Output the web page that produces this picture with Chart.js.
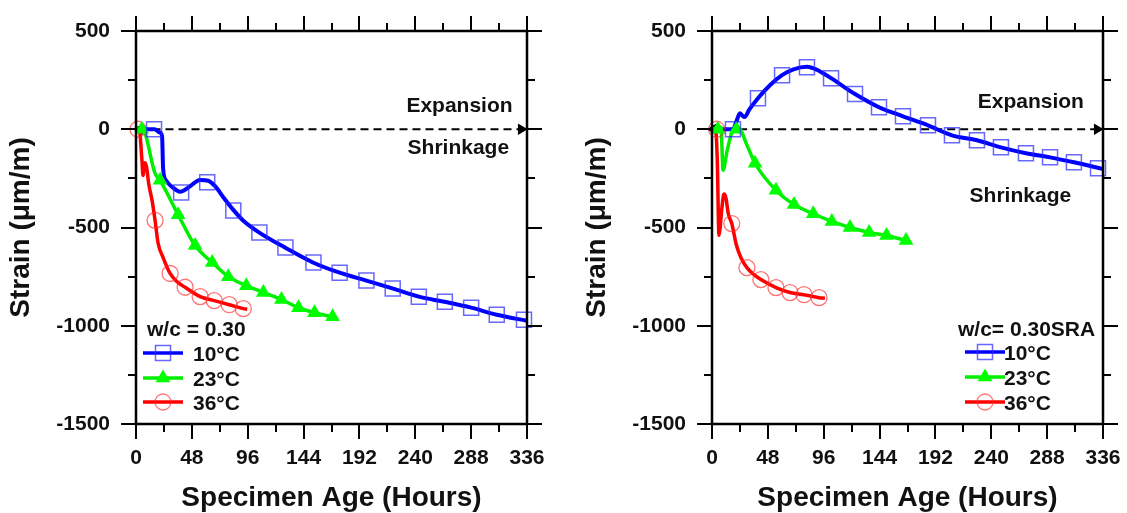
<!DOCTYPE html>
<html lang="en">
<head>
<meta charset="UTF-8">
<title>Strain vs specimen age</title>
<script src="https://cdn.jsdelivr.net/npm/chart.js@4.4.1/dist/chart.umd.min.js"></script>
<style>
    body, html { margin: 0; padding: 0; background: #fff; }
    .panel { position: absolute; top: 0; }
    canvas { display: block; }
</style>
</head>
<body>
<div class="panel" style="left:0"><canvas id="plainMix" width="575" height="513"></canvas></div>
<div class="panel" style="left:575px"><canvas id="sraMix" width="552" height="513"></canvas></div>
<script>
// axis labels
const hourLabels = [0, 48, 96, 144, 192, 240, 288, 336];
const strainLabels = [500, 0, -500, -1000, -1500];
const seriesNames = ['10°C', '23°C', '36°C'];

// ---- w/c = 0.30 ----
const plain10Hours  = [0, 10, 16, 20, 22.4, 23.3, 26, 32, 38, 46.5, 55, 62, 68, 75, 84, 92, 106, 128, 152, 175, 198, 221, 243, 265, 288, 310, 336];
const plain10Strain = [0, 0, 0, -15, -35, -200, -262, -298, -318, -290, -258, -262, -290, -346, -413, -464, -526, -602, -678, -730, -770, -811, -852, -878, -908, -944, -975];
const plain10MarkHours  = [15.5, 38.8, 61.2, 83.6, 106, 128.4, 152.5, 175, 198, 220.6, 243, 265.4, 288, 310, 333.4];
const plain10MarkStrain = [0, -322, -270, -413, -526, -602, -678, -730, -770, -811, -852, -878, -908, -944, -969];

const plain23Hours  = [0, 6, 16.4, 20.7, 36.2, 50.8, 65.5, 79.3, 94.8, 109.4, 125, 139.6, 153.4, 168.9];
const plain23Strain = [0, -5, -225, -260, -435, -592, -678, -750, -796, -831, -867, -908, -934, -954];
const plain23MarkHours  = [5, 20.7, 36.2, 50.8, 65.5, 79.3, 94.8, 109.4, 125, 139.6, 153.4, 168.9];
const plain23MarkStrain = [0, -260, -435, -592, -678, -750, -796, -831, -867, -908, -934, -954];

const plain36Hours  = [0, 3, 5, 6, 7.5, 9, 11, 13.8, 16.4, 19, 23.3, 29.3, 35, 42.2, 55.1, 67.2, 80.1, 92.2, 95.6];
const plain36Strain = [0, -10, -150, -235, -170, -190, -280, -362, -464, -580, -653, -734, -775, -804, -852, -872, -893, -913, -916];
const plain36MarkHours  = [1.7, 16.4, 29.3, 42.2, 55.1, 67.2, 80.1, 92.2];
const plain36MarkStrain = [0, -464, -734, -804, -852, -872, -893, -913];

// ---- w/c = 0.30 SRA ----
const sra10Hours  = [0, 12, 18, 21, 24, 26, 28, 32, 39.5, 50, 60.2, 70, 81.6, 90, 102.3, 122.9, 143.5, 164.1, 185.6, 206.2, 227.7, 248.3, 269.8, 290.5, 311, 336];
const sra10Strain = [0, 0, 0, 40, 82, 70, 62, 100, 158, 225, 275, 305, 318, 303, 260, 179, 112, 66, 20, -31, -56, -92, -122, -143, -168, -202];
const sra10MarkHours  = [18, 39.5, 60.2, 81.6, 102.3, 122.9, 143.5, 164.1, 185.6, 206.2, 227.7, 248.3, 269.8, 290.5, 311, 331.7];
const sra10MarkStrain = [0, 158, 275, 316, 260, 179, 112, 66, 20, -31, -56, -92, -122, -143, -168, -199];

const sra23Hours  = [0, 4, 7.7, 9.5, 13, 18, 23, 30, 37, 55, 70.5, 87, 103, 118.6, 135, 150, 166.7];
const sra23Strain = [0, 5, 10, -209, -110, -5, 5, -80, -173, -311, -383, -430, -469, -500, -525, -541, -566];
const sra23MarkHours  = [5, 21, 37, 55, 70.5, 87, 103, 118.6, 135, 150, 166.7];
const sra23MarkStrain = [0, 0, -173, -311, -383, -430, -469, -500, -525, -541, -566];

const sra36Hours  = [0, 3, 4.5, 6, 7, 8.5, 10.3, 12, 14, 17, 21, 25, 30, 36, 42, 55, 67, 79, 92, 97];
const sra36Strain = [0, 0, -150, -540, -500, -400, -330, -350, -430, -480, -590, -655, -704, -740, -765, -806, -831, -842, -857, -860];
const sra36MarkHours  = [4, 17, 30, 42, 55, 67, 79, 92];
const sra36MarkStrain = [0, -480, -704, -765, -806, -831, -842, -857];

// zero line with arrow
const plainArrowHours = [3, 331];
const sraArrowHours = [1, 331];
const arrowStrain = [0, 0];

const lineColors = ['#0000ff', '#00ee00', '#ff0000'];
const markColors = ['rgba(40,40,255,0.7)', '#00ff00', 'rgba(255,40,40,0.65)'];
const FONT = '"Liberation Sans", Arial, sans-serif';

function pts(xs, ys) {
    return xs.map((v, i) => ({x: v, y: ys[i]}));
}

function drawMark(ctx, i, x, y) {
    ctx.beginPath();
    if (i === 0) {
        ctx.rect(x - 7.5, y - 7.5, 15, 15);
        ctx.strokeStyle = markColors[0]; ctx.lineWidth = 1.5; ctx.stroke();
    } else if (i === 1) {
        ctx.moveTo(x, y - 8.5); ctx.lineTo(x + 7.4, y + 4.3); ctx.lineTo(x - 7.4, y + 4.3); ctx.closePath();
        ctx.fillStyle = markColors[1]; ctx.fill();
    } else {
        ctx.arc(x, y, 8, 0, Math.PI * 2);
        ctx.strokeStyle = markColors[2]; ctx.lineWidth = 1.3; ctx.stroke();
    }
}

// frame, mirror ticks, notes and legend
const decor = {
    id: 'decor',
    afterDraw(chart, args, o) {
        const {ctx, chartArea: a, scales: {x, y}} = chart;
        ctx.save();
        ctx.strokeStyle = '#000';
        ctx.lineWidth = 2;
        ctx.beginPath();
        x.ticks.forEach(t => {
            const p = Math.round(x.getPixelForValue(t.value));
            const len = hourLabels.includes(t.value) ? 15 : 8;
            ctx.moveTo(p, a.bottom); ctx.lineTo(p, a.bottom + len);
            ctx.moveTo(p, a.top); ctx.lineTo(p, a.top - len);
        });
        y.ticks.forEach(t => {
            const p = Math.round(y.getPixelForValue(t.value));
            const len = strainLabels.includes(t.value) ? 15 : 8;
            ctx.moveTo(a.left, p); ctx.lineTo(a.left - len, p);
            ctx.moveTo(a.right, p); ctx.lineTo(a.right + len, p);
        });
        ctx.stroke();
        ctx.lineWidth = 2.5;
        ctx.strokeRect(a.left, a.top, a.right - a.left, a.bottom - a.top);

        ctx.fillStyle = '#111';
        ctx.font = 'bold 21px ' + FONT;
        ctx.textAlign = 'center';
        ctx.textBaseline = 'alphabetic';
        o.notes.forEach(n => {
            ctx.fillText(n.text, x.getPixelForValue(n.x), y.getPixelForValue(n.y) + 7.5);
        });

        const lg = o.legend;
        ctx.textAlign = 'left';
        ctx.fillText(lg.title, lg.titleX, lg.titleY + 7.5);
        seriesNames.forEach((name, i) => {
            const yy = lg.rows[i];
            ctx.beginPath();
            ctx.moveTo(lg.x0, yy); ctx.lineTo(lg.x1, yy);
            ctx.strokeStyle = lineColors[i]; ctx.lineWidth = 3.5; ctx.stroke();
            drawMark(ctx, i, (lg.x0 + lg.x1) / 2, yy);
            ctx.fillStyle = '#111';
            ctx.fillText(name, lg.textX, yy + 7.5);
        });
        ctx.restore();
    }
};

function makeChart(id, curves, marks, arrowHours, padRight, axisWidth, titlePad, notes, legend) {
    const datasets = [];
    const styles = [
        {pointStyle: 'rect', pointRadius: 10.6, pointBorderWidth: 1.5, pointBackgroundColor: 'rgba(0,0,0,0)'},
        {pointStyle: 'triangle', pointRadius: 8.5, pointBorderWidth: 0, pointBackgroundColor: markColors[1]},
        {pointStyle: 'circle', pointRadius: 8, pointBorderWidth: 1.3, pointBackgroundColor: 'rgba(0,0,0,0)'}
    ];
    marks.forEach((m, i) => {
        datasets.push(Object.assign({
            data: m, showLine: false, pointBorderColor: markColors[i], clip: false, order: 1
        }, styles[i]));
    });
    curves.forEach((c, i) => {
        datasets.push({
            data: c, borderColor: lineColors[i], borderWidth: i === 0 ? 4 : 3.5,
            pointRadius: 0, cubicInterpolationMode: 'monotone', order: 2 + (2 - i) * 0.1
        });
    });
    datasets.push({
        data: pts(arrowHours, arrowStrain), borderColor: '#000', borderWidth: 2, borderDash: [8, 5],
        pointStyle: 'triangle', pointRotation: [-90, 90], pointRadius: 6.5, pointBorderWidth: 0,
        pointBackgroundColor: '#000', clip: false, order: 3
    });

    // invisible tick marks only reserve the room for the ones drawn by decor
    const spacer = len => ({display: true, drawOnChartArea: false, drawTicks: true, tickLength: len, tickColor: 'rgba(0,0,0,0)'});

    return new Chart(document.getElementById(id), {
        type: 'line',
        data: {datasets},
        plugins: [decor],
        options: {
            responsive: false,
            animation: false,
            events: [],
            layout: {padding: {left: 0, top: 31, right: padRight, bottom: 0}},
            plugins: {
                legend: {display: false},
                tooltip: {enabled: false},
                decor: {notes, legend}
            },
            scales: {
                x: {
                    type: 'linear', min: 0, max: 336,
                    grid: spacer(18),
                    border: {display: false},
                    ticks: {
                        stepSize: 24, autoSkip: false, maxRotation: 0, padding: 4,
                        color: '#111', font: {family: FONT, size: 21, weight: 'bold'},
                        callback: v => hourLabels.includes(v) ? v : ''
                    },
                    title: {
                        display: true, text: 'Specimen Age (Hours)', color: '#111',
                        font: {family: FONT, size: 28, weight: 'bold', lineHeight: 1},
                        padding: {top: 0, bottom: 1}
                    },
                    afterFit: s => { s.height = 89; }
                },
                y: {
                    min: -1500, max: 500,
                    grid: spacer(22),
                    border: {display: false},
                    ticks: {
                        stepSize: 250, autoSkip: false, padding: 4,
                        color: '#111', font: {family: FONT, size: 21, weight: 'bold'},
                        callback: v => strainLabels.includes(v) ? v : ''
                    },
                    title: {
                        display: true, text: 'Strain (μm/m)', color: '#111',
                        font: {family: FONT, size: 28, weight: 'bold', lineHeight: 1},
                        padding: {top: titlePad, bottom: 0}
                    },
                    afterFit: s => { s.width = axisWidth; }
                }
            }
        }
    });
}

makeChart('plainMix',
    [pts(plain10Hours, plain10Strain), pts(plain23Hours, plain23Strain), pts(plain36Hours, plain36Strain)],
    [pts(plain10MarkHours, plain10MarkStrain), pts(plain23MarkHours, plain23MarkStrain), pts(plain36MarkHours, plain36MarkStrain)],
    plainArrowHours, 48, 136, 7,
    [{text: 'Expansion', x: 278, y: 125}, {text: 'Shrinkage', x: 277, y: -89}],
    {title: 'w/c = 0.30', titleX: 147, titleY: 328, rows: [353, 378, 402], x0: 143, x1: 183, textX: 193});

makeChart('sraMix',
    [pts(sra10Hours, sra10Strain), pts(sra23Hours, sra23Strain), pts(sra36Hours, sra36Strain)],
    [pts(sra10MarkHours, sra10MarkStrain), pts(sra23MarkHours, sra23MarkStrain), pts(sra36MarkHours, sra36MarkStrain)],
    sraArrowHours, 24, 137, 8,
    [{text: 'Expansion', x: 274, y: 148}, {text: 'Shrinkage', x: 265, y: -332}],
    {title: 'w/c= 0.30SRA', titleX: 383, titleY: 328, rows: [352, 377, 402], x0: 390, x1: 430, textX: 429});
</script>
</body>
</html>
